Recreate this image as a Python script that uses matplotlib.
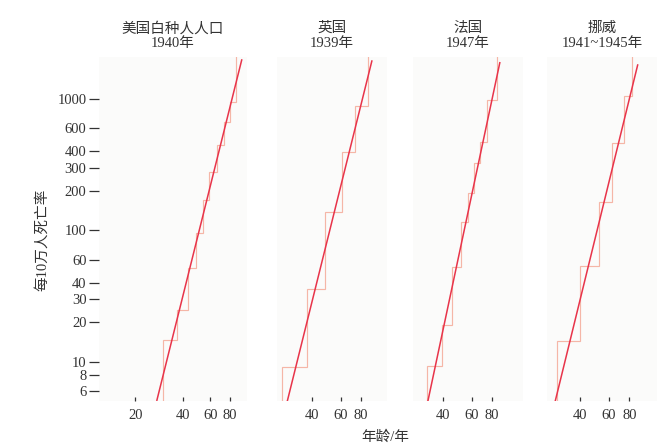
import numpy as np
import matplotlib.pyplot as plt

plt.rcParams['font.family'] = ['Liberation Serif', 'Noto Sans CJK SC']
plt.rcParams['font.size'] = 10.5
plt.rcParams['text.color'] = '#333333'

titles = ['美国白种人人口\n1940年', '英国\n1939年', '法国\n1947年', '挪威\n1941~1945年']

# age-group edges (years) and death rate per 100k for each group
us_edges = [30.1, 36.7, 43.5, 48.7, 54, 59.3, 66, 73, 80.7, 87]
us_rates = [14.7, 24.8, 51.5, 95, 170, 280, 447, 672, 954]
uk_edges = [26.5, 37.6, 48.0, 60.9, 73.8, 88.6]
uk_rates = [9.2, 36, 139, 397, 885]
fr_edges = [31.8, 39.1, 45.2, 51.6, 56.5, 61.6, 67.1, 74.2, 85.6]
fr_rates = [9.3, 19.1, 52.9, 116, 194, 327, 473, 983]
no_edges = [29.0, 39.8, 52.3, 62.6, 73.7, 83.0]
no_rates = [14.5, 53.9, 165, 460, 1060]

# fitted straight lines, two end points each
fit_ages = [[27.4, 95.3], [28.4, 93.0], [31.8, 89.7], [27.7, 89.9]]
fit_rates = [[5.1, 1982], [5.0, 1946], [4.8, 1888], [4.6, 1815]]

x_ticks = [[20, 40, 60, 80], [40, 60, 80], [40, 60, 80], [40, 60, 80]]
y_ticks = [6, 8, 10, 20, 30, 40, 60, 100, 200, 300, 400, 600, 1000]

edges_all = [us_edges, uk_edges, fr_edges, no_edges]
rates_all = [us_rates, uk_rates, fr_rates, no_rates]

# panel placement in pixels and x ranges
W, H = 667, 448
boxes = [(99, 247), (277, 387), (413, 523), (547, 657)]
xlims = [(11.7, 103), (24.6, 115), (25.9, 125), (25.1, 118)]
top, bottom = 57, 401
ylim = (5.03, 2088)

step_col = '#f5b6a7'
fit_col = '#e8344a'

fig = plt.figure(figsize=(6.67, 4.48), dpi=100)

for i in range(4):
    x0, x1 = boxes[i]
    ax = fig.add_axes([x0 / W, 1 - bottom / H, (x1 - x0) / W, (bottom - top) / H])
    ax.set_facecolor('#fbfbfa')
    ax.set_xscale('log')
    ax.set_yscale('log')

    ax.stairs(np.r_[1, rates_all[i], 1e5], np.r_[5, edges_all[i], 300],
              baseline=None, color=step_col, lw=0.85)
    ax.plot(fit_ages[i], fit_rates[i], color=fit_col, lw=1.1)

    ax.set_xlim(xlims[i])
    ax.set_ylim(ylim)
    ax.set_xticks(x_ticks[i])
    ax.set_xticklabels([str(t) for t in x_ticks[i]])
    if i == 0:
        ax.set_yticks(y_ticks)
        ax.set_yticklabels([str(t) for t in y_ticks])
    else:
        ax.set_yticks([])
    ax.minorticks_off()
    ax.tick_params(axis='x', direction='in', length=3, width=0.9, pad=6,
                   colors='#333333')
    ax.tick_params(axis='y', direction='out', length=7, width=0.9, pad=2,
                   colors='#333333')
    for s in ax.spines.values():
        s.set_visible(False)
    ax.set_title(titles[i], fontsize=10.5, linespacing=1.2, pad=7)

fig.text(42 / W, 1 - 240 / H, '每10万人死亡率', rotation=90, ha='center', va='center')
fig.text(385 / W, 1 - 437 / H, '年龄/年', ha='center', va='center')

fig.savefig('out.png', dpi=100)
